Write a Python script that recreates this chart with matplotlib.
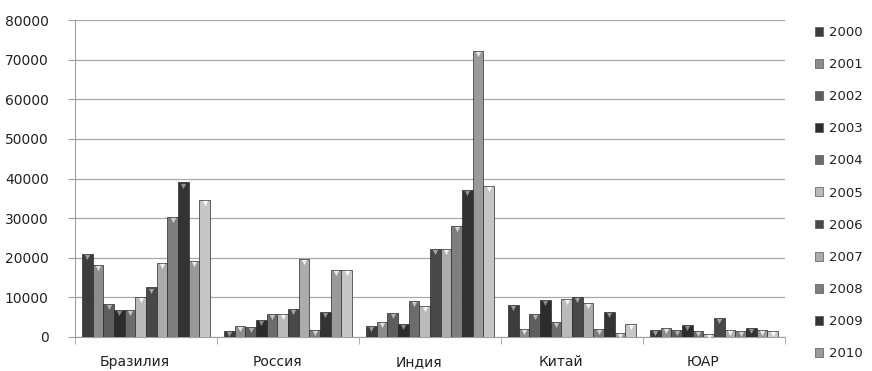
import matplotlib
matplotlib.use("Agg")
import matplotlib.pyplot as plt
import matplotlib.transforms as mtransforms
import numpy as np
from matplotlib.patches import Patch

# Data
countries = ["Бразилия", "Россия", "Индия", "Китай", "ЮАР"]
years = [str(y) for y in range(2000, 2012)]

brazil = [20900, 18200, 8400, 6900, 6900, 10200, 12500, 18700, 30400, 39000, 19100, 34700]
russia = [1500, 2800, 2600, 4300, 5800, 5800, 7000, 19700, 1700, 6400, 16900, 16900]
india = [2700, 3800, 6100, 3300, 9000, 7800, 22100, 22100, 28100, 37100, 72300, 38200]
china = [8100, 2100, 5700, 9400, 3800, 9500, 10000, 8600, 2100, 6200, 1100, 3400]
sar = [1700, 2200, 1800, 3100, 1600, 700, 4800, 1800, 1600, 2300, 1800, 1500]

colors = ["#3c3c3c", "#8c8c8c", "#5e5e5e", "#2c2c2c", "#6c6c6c", "#bababa",
          "#484848", "#acacac", "#7e7e7e", "#333333", "#9a9a9a", "#c6c6c6"]
tops = ["#9a9a9a", "#e0e0e0", "#b0b0b0", "#8a8a8a", "#c4c4c4", "#f4f4f4",
        "#a4a4a4", "#f0f0f0", "#d0d0d0", "#909090", "#e8e8e8", "#fafafa"]

values = np.array([brazil, russia, india, china, sar])

fig = plt.figure(figsize=(8.72, 3.71), dpi=100)
ax = fig.add_axes([75/872, 1 - 337/371, 710/872, 317/371])

n = len(years)
w = 0.9 / n
x = np.arange(len(countries))
shift = mtransforms.offset_copy(ax.transData, fig=fig, x=0, y=-2.2, units="points")
for i in range(n):
    pos = x - 0.45 + w * (i + 0.5)
    ax.bar(pos, values[:, i], width=w, color=colors[i], edgecolor="#2a2a2a",
           linewidth=0.5, zorder=3)
    ax.scatter(pos, values[:, i], marker="v", s=14, color=tops[i],
               linewidths=0, zorder=4, transform=shift)

ax.set_xlim(-0.5, 4.5)
ax.set_ylim(0, 80000)
ax.set_yticks(np.arange(0, 80001, 10000))
ax.yaxis.grid(True, color="#a8a8a8", linewidth=0.9, zorder=0)
ax.set_xticks(x)
ax.set_xticklabels(countries)
ax.set_xticks(np.arange(-0.5, 4.6, 1), minor=True)
ax.tick_params(axis="x", which="major", length=0, pad=13, labelsize=10, labelcolor="#222222")
ax.tick_params(axis="x", which="minor", length=5, color="#a0a0a0", direction="out")
ax.tick_params(axis="y", length=5, color="#a0a0a0", pad=14, labelsize=10, labelcolor="#222222")
# labels in the reference sit a little left of the group centres
lab_shift = mtransforms.ScaledTranslation(-11/100, 0, fig.dpi_scale_trans)
for lab in ax.get_xticklabels():
    lab.set_transform(lab.get_transform() + lab_shift)
for s in ["top", "right"]:
    ax.spines[s].set_visible(False)
for s in ["left", "bottom"]:
    ax.spines[s].set_color("#a0a0a0")

handles = [Patch(facecolor=colors[i], edgecolor="#555555", linewidth=0.5) for i in range(11)]
fig.legend(handles, years[:11], loc="upper left", bbox_to_anchor=(803/872, 1 - 14/371),
           frameon=False, fontsize=9.5, labelspacing=1.45, handlelength=0.65,
           handleheight=0.65, handletextpad=0.45, labelcolor="#222222")

fig.savefig("out.png", dpi=100)
